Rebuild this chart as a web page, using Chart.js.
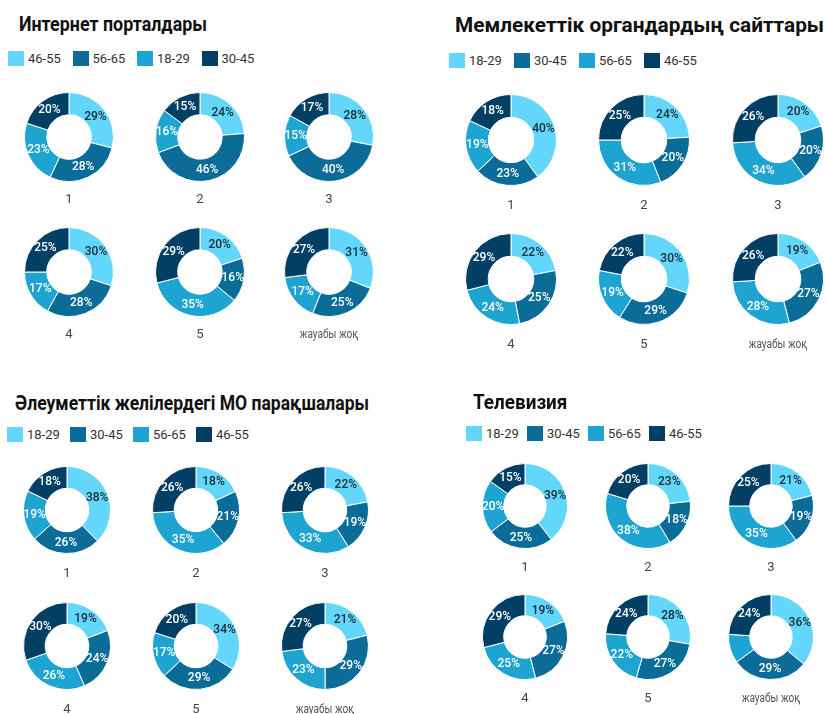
<!DOCTYPE html>
<html>
<head>
<meta charset="utf-8">
<script src="https://cdn.jsdelivr.net/npm/chart.js@4.4.1/dist/chart.umd.min.js"></script>
<style>
    body { margin: 0; background: #fff; font-family: Roboto, sans-serif; }
    #page { position: relative; width: 825px; height: 714px; overflow: hidden; }
    .title { position: absolute; font-weight: 700; font-size: 21px; line-height: 21px; color: #111; white-space: nowrap; transform-origin: 0 50%; }
    .legend { position: absolute; display: flex; height: 16px; }
    .legend-item { display: flex; align-items: center; font-size: 13px; color: #333; white-space: nowrap; }
    .legend-box { width: 16px; height: 15px; margin-right: 4px; }
    .caption { position: absolute; width: 120px; text-align: center; font-size: 13px; line-height: 16px; color: #444; }
    .caption.small { font-size: 12px; color: #555; transform: scaleX(0.84); }
    canvas { position: absolute; }
</style>
</head>
<body>
<div id="page"></div>
<script>
// categories (one doughnut each)
const categories = ['1', '2', '3', '4', '5', 'жауабы жоқ'];

// slice colours, in legend order
const sliceColors = ['#62d7fb', '#0b6d97', '#1ea4d0', '#013f64'];

// Интернет порталдары
const internetAges = ['46-55', '56-65', '18-29', '30-45'];
const internetValues = [
    [29, 28, 23, 20],
    [24, 46, 16, 15],
    [28, 40, 15, 17],
    [30, 28, 17, 25],
    [20, 16, 35, 29],
    [31, 25, 17, 27]
];

// Мемлекеттік органдардың сайттары
const govAges = ['18-29', '30-45', '56-65', '46-55'];
const govValues = [
    [40, 23, 19, 18],
    [24, 20, 31, 25],
    [20, 20, 34, 26],
    [22, 25, 24, 29],
    [30, 29, 19, 22],
    [19, 27, 28, 26]
];

// Әлеуметтік желілердегі МО парақшалары
const socialAges = ['18-29', '30-45', '56-65', '46-55'];
const socialValues = [
    [38, 26, 19, 18],
    [18, 21, 35, 26],
    [22, 19, 33, 26],
    [19, 24, 26, 30],
    [34, 29, 17, 20],
    [21, 29, 23, 27]
];

// Телевизия
const tvAges = ['18-29', '30-45', '56-65', '46-55'];
const tvValues = [
    [39, 25, 20, 15],
    [23, 18, 38, 20],
    [21, 19, 35, 25],
    [19, 27, 25, 29],
    [28, 27, 22, 24],
    [36, 29, 11, 24]
];

const panels = [
    { title: 'Интернет порталдары', ages: internetAges, values: internetValues,
      tx: 19, ty: 14, tscale: 0.85, lx: 8, ly: 50, lstep: 64.5, cx: [69, 200, 329], cy: [137, 272], r: 45, capDy: 61.5 },
    { title: 'Мемлекеттік органдардың сайттары', ages: govAges, values: govValues,
      tx: 455, ty: 15, tscale: 0.99, lx: 449, ly: 52, lstep: 65, cx: [511, 644, 778], cy: [140, 279], r: 46, capDy: 65 },
    { title: 'Әлеуметтік желілердегі МО парақшалары', ages: socialAges, values: socialValues,
      tx: 15, ty: 393, tscale: 0.835, lx: 7, ly: 426, lstep: 63, cx: [67, 196, 325], cy: [510, 646], r: 44, capDy: 62.5 },
    { title: 'Телевизия', ages: tvAges, values: tvValues,
      tx: 473, ty: 392, tscale: 0.9, lx: 466, ly: 425, lstep: 61, cx: [525, 648, 771], cy: [506, 637], r: 43, capDy: 60.5 }
];

// percentage labels in the middle of each slice
const sliceLabels = {
    id: 'sliceLabels',
    afterDatasetsDraw(chart) {
        const ctx = chart.ctx;
        const values = chart.data.datasets[0].data;
        ctx.save();
        ctx.font = '500 12px Roboto';
        ctx.textAlign = 'center';
        ctx.textBaseline = 'middle';
        chart.getDatasetMeta(0).data.forEach((arc, i) => {
            if (values[i] < 12) return;
            const p = arc.tooltipPosition();
            ctx.fillStyle = i === 0 ? '#1c2a36' : '#ffffff';
            ctx.fillText(values[i] + '%', p.x, p.y);
        });
        ctx.restore();
    }
};

const page = document.getElementById('page');
const pad = 14;

panels.forEach(panel => {
    const title = document.createElement('div');
    title.className = 'title';
    title.style.left = panel.tx + 'px';
    title.style.top = panel.ty + 'px';
    title.style.transform = 'scaleX(' + panel.tscale + ')';
    title.textContent = panel.title;
    page.appendChild(title);

    const legend = document.createElement('div');
    legend.className = 'legend';
    legend.style.left = panel.lx + 'px';
    legend.style.top = panel.ly + 'px';
    panel.ages.forEach((age, i) => {
        const item = document.createElement('div');
        item.className = 'legend-item';
        item.style.width = panel.lstep + 'px';
        item.innerHTML = '<span class="legend-box" style="background:' + sliceColors[i] + '"></span>' + age;
        legend.appendChild(item);
    });
    page.appendChild(legend);

    categories.forEach((cat, k) => {
        const x = panel.cx[k % 3];
        const y = panel.cy[Math.floor(k / 3)];
        const size = 2 * panel.r + 2 * pad;

        const canvas = document.createElement('canvas');
        canvas.width = size;
        canvas.height = size;
        canvas.style.left = (x - size / 2) + 'px';
        canvas.style.top = (y - size / 2) + 'px';
        page.appendChild(canvas);

        new Chart(canvas.getContext('2d'), {
            type: 'doughnut',
            data: {
                labels: panel.ages,
                datasets: [{
                    data: panel.values[k],
                    backgroundColor: sliceColors,
                    borderColor: '#ffffff',
                    borderWidth: 1
                }]
            },
            options: {
                responsive: false,
                animation: false,
                cutout: '50%',
                layout: { padding: pad },
                plugins: {
                    legend: { display: false },
                    tooltip: { enabled: false }
                }
            },
            plugins: [sliceLabels]
        });

        const caption = document.createElement('div');
        caption.className = k === 5 ? 'caption small' : 'caption';
        caption.style.left = (x - 60) + 'px';
        caption.style.top = (y + panel.capDy - 8) + 'px';
        caption.textContent = cat;
        page.appendChild(caption);
    });
});
</script>
</body>
</html>
